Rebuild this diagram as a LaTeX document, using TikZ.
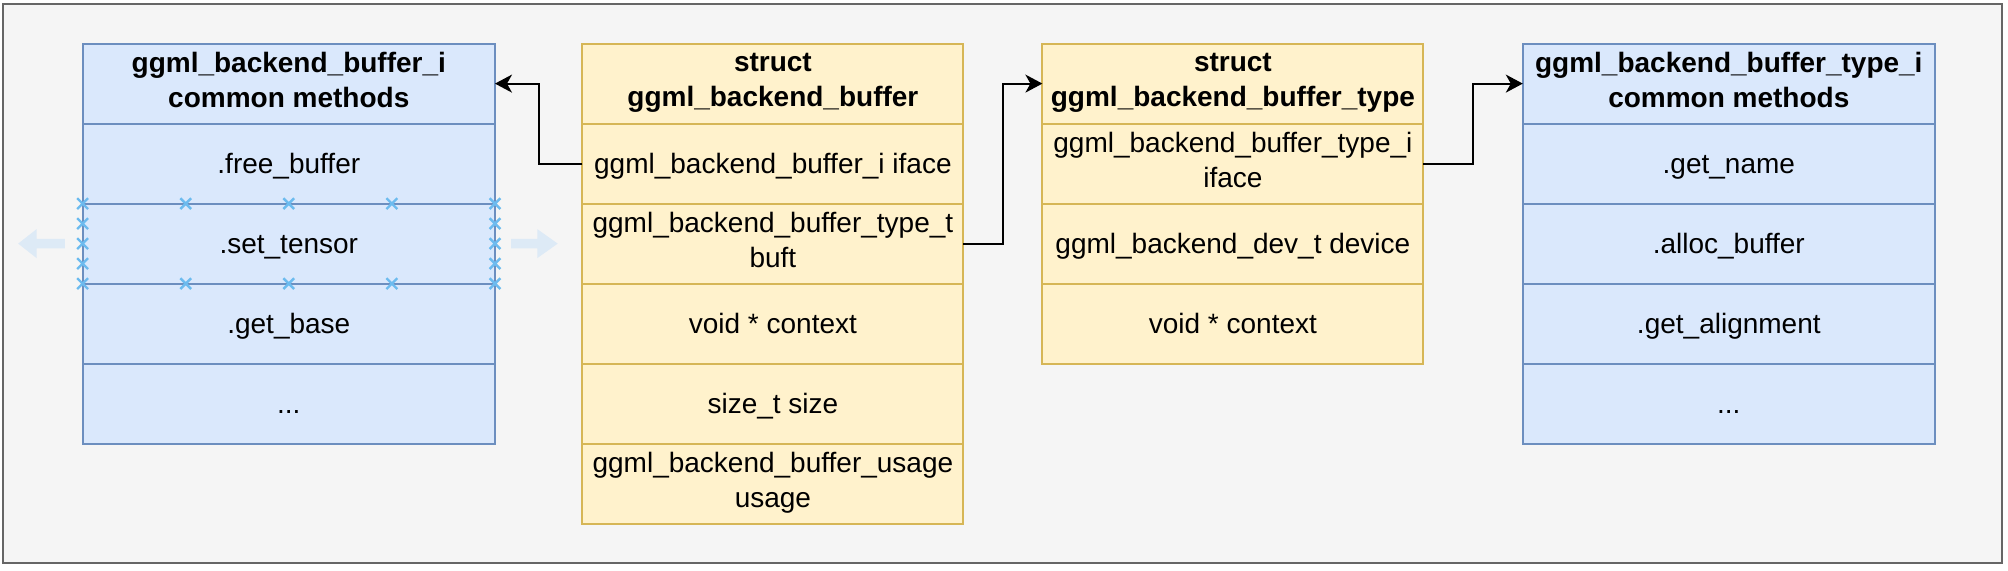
\documentclass[tikz,border=0pt]{standalone}
\usepackage{fontspec}
\setmainfont{Liberation Sans}
\usepackage{tikz}
\usetikzlibrary{positioning,calc,arrows.meta}

\definecolor{bluefill}{HTML}{DAE8FC}
\definecolor{bluedraw}{HTML}{6C8EBF}
\definecolor{yelfill}{HTML}{FFF2CC}
\definecolor{yeldraw}{HTML}{D6B656}
\definecolor{framefill}{HTML}{F5F5F5}
\definecolor{framedraw}{HTML}{666666}
\definecolor{hitblue}{HTML}{6CBBEF}
\definecolor{ghostblue}{HTML}{DDEAF6}

\newcommand\rowstrut{\rule[-0.254em]{0pt}{1.2em}}

\begin{document}
\begin{tikzpicture}[font=\fontsize{14pt}{17.4pt}\selectfont,
	cell/.style={rectangle, draw, line width=1pt, outer sep=0pt, inner sep=2pt, minimum height=40pt, align=center,
		execute at begin node=\rowstrut, execute at end node=\rowstrut},
	mcell/.style={cell, fill=bluefill, draw=bluedraw, minimum width=206.2pt},
	scell/.style={cell, fill=yelfill, draw=yeldraw, minimum width=190.5pt},
	title/.style={font=\fontsize{14pt}{17.4pt}\selectfont\bfseries},
	link/.style={-{Stealth[length=8.5pt,width=9pt,inset=2.5pt]}, line width=1pt},
	hit/.style={draw=hitblue, line width=1.2pt},
	ghost/.style={fill=ghostblue, draw=none}]
	
	\useasboundingbox (0,0) rectangle (1004pt,-285pt);
	\draw[fill=framefill, draw=framedraw, line width=1pt] (1.35pt,-2pt) rectangle (1001.2pt,-281.5pt);
	
	% buffer interface methods
	\node[mcell, title, anchor=north west] (bufi) at (41.3pt,-21.8pt) {ggml\_backend\_buffer\_i\\common methods};
	\node[mcell, below=0pt of bufi] (bufi1) {.free\_buffer};
	\node[mcell, below=0pt of bufi1] (bufi2) {.set\_tensor};
	\node[mcell, below=0pt of bufi2] (bufi3) {.get\_base};
	\node[mcell, below=0pt of bufi3] (bufi4) {...};
	
	% struct ggml_backend_buffer
	\node[scell, title, anchor=north west] (buf) at (291.2pt,-21.8pt) {struct\\ggml\_backend\_buffer};
	\node[scell, below=0pt of buf] (buf1) {ggml\_backend\_buffer\_i iface};
	\node[scell, below=0pt of buf1] (buf2) {ggml\_backend\_buffer\_type\_t\\buft};
	\node[scell, below=0pt of buf2] (buf3) {void * context};
	\node[scell, below=0pt of buf3] (buf4) {size\_t size};
	\node[scell, below=0pt of buf4] (buf5) {ggml\_backend\_buffer\_usage\\usage};
	
	% struct ggml_backend_buffer_type
	\node[scell, title, anchor=north west] (buft) at (521.2pt,-21.8pt) {struct\\ggml\_backend\_buffer\_type};
	\node[scell, below=0pt of buft] (buft1) {ggml\_backend\_buffer\_type\_i\\iface};
	\node[scell, below=0pt of buft1] (buft2) {ggml\_backend\_dev\_t device};
	\node[scell, below=0pt of buft2] (buft3) {void * context};
	
	% buffer type interface methods
	\node[mcell, title, anchor=north west, minimum width=206pt] (bufti) at (761.4pt,-21.8pt) {ggml\_backend\_buffer\_type\_i\\common methods};
	\node[mcell, below=0pt of bufti, minimum width=206pt] (bufti1) {.get\_name};
	\node[mcell, below=0pt of bufti1, minimum width=206pt] (bufti2) {.alloc\_buffer};
	\node[mcell, below=0pt of bufti2, minimum width=206pt] (bufti3) {.get\_alignment};
	\node[mcell, below=0pt of bufti3, minimum width=206pt] (bufti4) {...};
	
	% links
	\draw[link] (buf1.west) -| ($(buf1.west)!.5!(bufi.east)$) |- (bufi.east);
	\draw[link] (buf2.east) -| ($(buf2.east)!.5!(buft.west)$) |- (buft.west);
	\draw[link] (buft1.east) -| ($(buft1.east)!.5!(bufti.west)$) |- (bufti.west);
	
	% selection handles round .set_tensor
	\foreach \f in {0,0.25,0.5,0.75,1} {
		\draw[hit] ($(bufi2.north west)!\f!(bufi2.north east)$) +(-2.7pt,-2.7pt) -- +(2.7pt,2.7pt) +(-2.7pt,2.7pt) -- +(2.7pt,-2.7pt);
		\draw[hit] ($(bufi2.south west)!\f!(bufi2.south east)$) +(-2.7pt,-2.7pt) -- +(2.7pt,2.7pt) +(-2.7pt,2.7pt) -- +(2.7pt,-2.7pt);
	}
	\foreach \f in {0.25,0.5,0.75} {
		\draw[hit] ($(bufi2.north west)!\f!(bufi2.south west)$) +(-2.7pt,-2.7pt) -- +(2.7pt,2.7pt) +(-2.7pt,2.7pt) -- +(2.7pt,-2.7pt);
		\draw[hit] ($(bufi2.north east)!\f!(bufi2.south east)$) +(-2.7pt,-2.7pt) -- +(2.7pt,2.7pt) +(-2.7pt,2.7pt) -- +(2.7pt,-2.7pt);
	}
	\fill[ghost] ([shift={(-8.85pt,2.35pt)}]bufi2.west) -- ++(-14.15pt,0) -- ++(0,4.9pt) -- ++(-9.2pt,-7.25pt) -- ++(9.2pt,-7.25pt) -- ++(0,4.9pt) -- ++(14.15pt,0) -- cycle;
	\fill[ghost] ([shift={(8pt,2.35pt)}]bufi2.east) -- ++(13.15pt,0) -- ++(0,4.9pt) -- ++(10.2pt,-7.25pt) -- ++(-10.2pt,-7.25pt) -- ++(0,4.9pt) -- ++(-13.15pt,0) -- cycle;
	
\end{tikzpicture}
\end{document}
